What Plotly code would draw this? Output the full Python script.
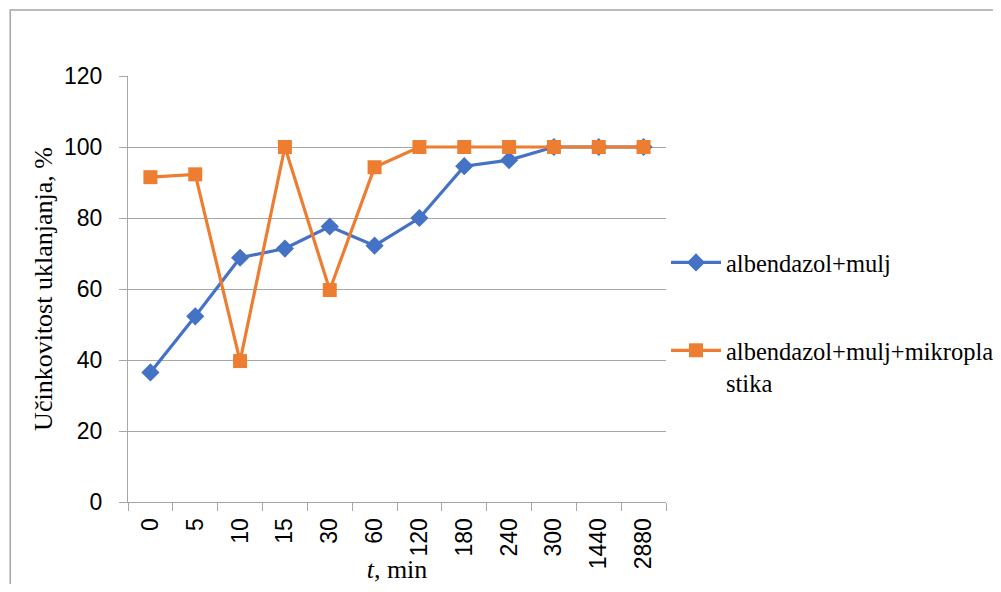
import plotly.graph_objects as go

categories = ["0", "5", "10", "15", "30", "60", "120", "180", "240", "300", "1440", "2880"]
albendazol_mulj = [36.5, 52.3, 68.8, 71.4, 77.6, 72.2, 80.0, 94.6, 96.3, 100, 100, 100]
albendazol_mulj_mikroplastika = [91.5, 92.3, 39.7, 100, 59.7, 94.3, 100, 100, 100, 100, 100, 100]
series_names = ["albendazol+mulj", "albendazol+mulj+mikropla<br>stika"]

# page has an 8px body offset; work in screen coordinates and subtract it
OFF = 8
L, R, T, B = 128, 667, 76, 502
W, H = 1001 - 2 * OFF, 592 - 2 * OFF

fig = go.Figure()
fig.add_trace(go.Scatter(
    x=categories, y=albendazol_mulj, name=series_names[0], mode="lines+markers",
    line=dict(color="#4472C4", width=3.2), legendgroup="a",
    marker=dict(symbol="diamond", size=14, color="#4472C4")))
fig.add_trace(go.Scatter(
    x=categories, y=albendazol_mulj_mikroplastika, name=series_names[1], mode="lines+markers",
    line=dict(color="#ED7D31", width=3.2), legendgroup="b",
    marker=dict(symbol="square", size=14, color="#ED7D31")))

pw, ph = R - L, B - T
fig.add_shape(type="rect", xref="paper", yref="paper",
              x0=(10 - L) / pw, x1=(1020 - L) / pw,
              y0=(B - 620) / ph, y1=(B - 10) / ph,
              line=dict(color="#A6A6A6", width=1.5), layer="below")

fig.update_layout(
    width=W, height=H,
    margin=dict(l=L - OFF, r=W - (R - OFF), t=T - OFF, b=H - (B - OFF)),
    paper_bgcolor="white", plot_bgcolor="white",
    showlegend=True,
    legend=dict(xref="container", yref="container",
                x=(666 - OFF) / W, y=1 - (240 - OFF) / H, xanchor="left", yanchor="top",
                font=dict(family="Liberation Serif", size=24.5, color="black"),
                tracegroupgap=53, itemwidth=50, valign="top", bgcolor="rgba(0,0,0,0)"),
    xaxis=dict(type="category", range=[-0.5, len(categories) - 0.5], automargin=False,
               showgrid=False, showline=True, linecolor="#A6A6A6",
               linewidth=1, ticks="outside", tickson="boundaries", ticklen=8,
               tickcolor="#A6A6A6", tickangle=-90, ticklabelstandoff=6,
               tickfont=dict(family="Liberation Sans", size=23, color="black"),
               title=dict(text="<i>t</i>, min", standoff=9,
                          font=dict(family="Liberation Serif", size=26, color="black"))),
    yaxis=dict(range=[0, 120], dtick=20, automargin=False,
               showgrid=True, gridcolor="#A6A6A6", gridwidth=1,
               showline=True, linecolor="#A6A6A6", ticks="outside", ticklen=8,
               tickcolor="#A6A6A6", zeroline=False, ticklabelstandoff=12,
               tickfont=dict(family="Liberation Sans", size=23, color="black"),
               title=dict(text="Učinkovitost uklanjanja, %", standoff=3,
                          font=dict(family="Liberation Serif", size=26, color="black"))),
)

fig.write_html("out.html")
